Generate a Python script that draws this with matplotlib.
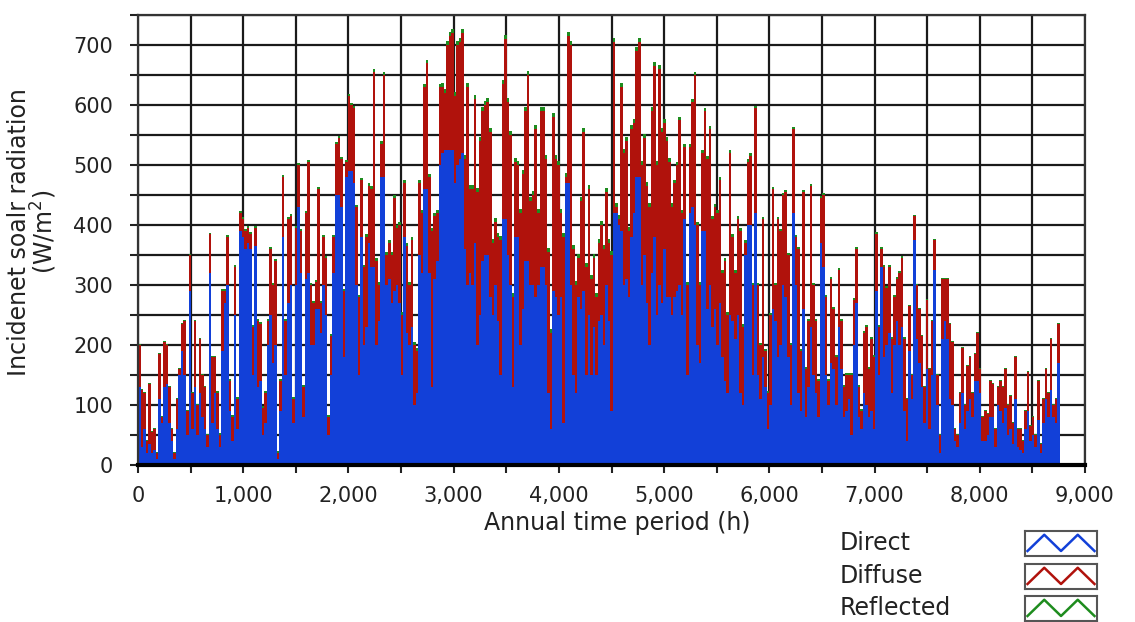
import numpy as np
import matplotlib
matplotlib.use("Agg")
import matplotlib.pyplot as plt

# daily peak values (W/m2), day 0 .. 364
total_peak = [
    200, 125, 120, 40, 135, 55, 60, 20, 185, 80,
    205, 200, 130, 60, 20, 110, 160, 235, 240, 90,
    350, 120, 240, 100, 210, 150, 130, 50, 385, 180,
    180, 120, 50, 290, 290, 380, 140, 80, 330, 110,
    420, 410, 390, 395, 385, 230, 395, 240, 235, 95,
    120, 240, 360, 300, 340, 20, 140, 480, 240, 410,
    415, 110, 395, 500, 390, 130, 420, 505, 300, 270,
    305, 460, 270, 380, 345, 80, 215, 380, 535, 545,
    510, 290, 505, 615, 600, 595, 430, 280, 475, 330,
    380, 465, 460, 655, 340, 300, 535, 650, 350, 370,
    350, 445, 395, 400, 250, 470, 365, 300, 375, 200,
    190, 470, 420, 630, 670, 480, 390, 415, 420, 630,
    630, 620, 700, 715, 720, 615, 700, 705, 720, 510,
    630, 460, 460, 610, 455, 540, 590, 600, 605, 555,
    370, 405, 380, 375, 635, 710, 605, 550, 280, 505,
    500, 420, 485, 590, 650, 440, 450, 560, 420, 590,
    590, 510, 355, 220, 580, 510, 500, 420, 380, 480,
    715, 700, 360, 300, 345, 440, 555, 330, 460, 310,
    345, 280, 370, 400, 360, 455, 370, 350, 705, 430,
    410, 630, 520, 540, 390, 560, 570, 690, 705, 500,
    545, 465, 430, 590, 665, 500, 660, 555, 570, 540,
    505, 430, 470, 500, 575, 420, 530, 300, 530, 605,
    650, 400, 300, 520, 590, 510, 560, 410, 430, 420,
    475, 320, 340, 250, 520, 380, 320, 410, 390, 230,
    370, 505, 515, 300, 595, 300, 200, 410, 190, 120,
    250, 460, 300, 410, 390, 450, 455, 350, 200, 560,
    380, 360, 190, 455, 160, 240, 465, 300, 240, 140,
    445, 450, 280, 140, 310, 260, 180, 325, 240, 130,
    150, 150, 150, 275, 360, 130, 90, 220, 230, 160,
    210, 180, 385, 230, 360, 330, 295, 330, 210, 280,
    310, 320, 345, 210, 110, 265, 150, 415, 300, 260,
    215, 130, 275, 160, 240, 375, 150, 50, 310, 310,
    310, 235, 205, 60, 50, 120, 195, 100, 165, 180,
    120, 185, 220, 160, 80, 90, 85, 140, 135, 60,
    130, 140, 130, 160, 100, 115, 70, 180, 60, 60,
    40, 90, 155, 65, 80, 50, 140, 35, 110, 160,
    120, 210, 100, 110, 235,
]

direct_peak = [
    130, 30, 60, 20, 35, 20, 25, 10, 110, 70,
    130, 135, 70, 40, 10, 60, 150, 190, 150, 50,
    290, 60, 130, 50, 120, 80, 60, 30, 320, 70,
    120, 60, 30, 190, 270, 300, 90, 40, 250, 60,
    390, 380, 360, 370, 360, 150, 365, 130, 140, 50,
    70, 200, 250, 170, 200, 10, 90, 380, 150, 270,
    300, 70, 300, 430, 320, 80, 310, 320, 200, 200,
    260, 260, 220, 300, 250, 50, 150, 320, 450, 450,
    430, 180, 480, 490, 490, 470, 300, 150, 380, 200,
    230, 370, 330, 330, 200, 240, 480, 480, 300, 310,
    270, 290, 300, 270, 150, 380, 220, 200, 230, 100,
    120, 350, 320, 460, 460, 320, 130, 310, 340, 500,
    520, 525, 525, 525, 525, 470, 500, 510, 520, 360,
    300, 320, 300, 370, 200, 250, 340, 350, 350, 280,
    250, 300, 240, 150, 410, 410, 350, 300, 130, 380,
    380, 200, 260, 340, 340, 300, 300, 280, 300, 330,
    330, 300, 120, 60, 290, 280, 250, 280, 70, 470,
    470, 300, 150, 120, 280, 260, 290, 150, 250, 150,
    230, 150, 240, 250, 200, 300, 240, 90, 420, 420,
    400, 390, 300, 310, 280, 380, 420, 480, 480, 300,
    350, 270, 200, 320, 380, 250, 300, 270, 360, 280,
    280, 250, 280, 290, 300, 250, 410, 150, 420, 430,
    400, 200, 170, 390, 390, 260, 300, 230, 260, 200,
    270, 180, 140, 120, 250, 240, 210, 250, 120, 100,
    350, 400, 400, 150, 420, 150, 110, 180, 130, 60,
    100, 260, 240, 180, 200, 300, 280, 180, 100, 420,
    300, 120, 90, 260, 80, 130, 230, 150, 120, 80,
    370, 330, 150, 100, 170, 160, 100, 230, 160, 80,
    90, 110, 50, 200, 270, 80, 60, 120, 100, 80,
    90, 60, 290, 150, 330, 180, 200, 220, 120, 200,
    240, 200, 230, 90, 40, 190, 110, 375, 210, 170,
    130, 70, 160, 60, 150, 325, 100, 20, 210, 240,
    210, 110, 100, 40, 30, 70, 120, 60, 90, 110,
    80, 140, 140, 120, 40, 40, 50, 80, 80, 30,
    100, 90, 70, 95, 50, 60, 35, 110, 30, 25,
    20, 60, 90, 40, 50, 30, 75, 20, 70, 110,
    80, 125, 80, 70, 170,
]

# small reflected cap, per month
reflected_month = [2, 3, 4, 5, 6, 6, 6, 5, 4, 3, 2, 2]
month_days = [31, 28, 31, 30, 31, 30, 31, 31, 30, 31, 30, 31]

legend_names = ["Direct", "Diffuse", "Reflected"]
colors = ["#1240d8", "#b0120c", "#1e8c1e"]
TXT = "#222222"

n = min(len(total_peak), len(direct_peak))
total = np.array(total_peak[:n], dtype=float)
direct = np.array(direct_peak[:n], dtype=float)
diffuse = np.clip(total - direct, 0, None)
reflected = np.repeat(reflected_month, month_days)[:n]
hours = np.arange(n) * 24 + 12

W, H = 1135, 622
fig = plt.figure(figsize=(11.35, 6.22), dpi=100)
ax = fig.add_axes([138 / W, 1 - 465 / H, 947 / W, 450 / H])

ax.bar(hours, direct, width=24, color=colors[0], linewidth=0, zorder=2)
ax.bar(hours, diffuse, width=24, bottom=direct, color=colors[1], linewidth=0, zorder=2)
ax.bar(hours, reflected, width=24, bottom=direct + diffuse, color=colors[2], linewidth=0, zorder=2)

ax.set_xlim(0, 9000)
ax.set_ylim(0, 750)
ax.set_xticks(np.arange(0, 9001, 1000))
ax.set_xticklabels([f"{v:,}" for v in range(0, 9001, 1000)])
ax.set_xticks(np.arange(500, 9000, 1000), minor=True)
ax.set_yticks(np.arange(0, 701, 100))
ax.set_yticks(np.arange(50, 751, 100), minor=True)

ax.grid(True, which="both", color="#1a1a1a", linewidth=1.6, zorder=1)
ax.set_axisbelow(True)
ax.tick_params(axis="both", which="both", direction="out", length=6, width=1.5,
               color="#222222", labelsize=15, labelcolor=TXT)
ax.tick_params(axis="y", pad=12)
ax.tick_params(axis="x", pad=9)
for side in ["top", "right", "left"]:
    ax.spines[side].set_linewidth(1.6)
    ax.spines[side].set_color("#333333")
ax.spines["bottom"].set_linewidth(3)
ax.spines["bottom"].set_color("black")

ax.set_xlabel("Annual time period (h)", fontsize=17, color=TXT)
ax.xaxis.set_label_coords((617 - 138) / 947, (465 - 523) / 450)
ax.xaxis.label.set_va("center")
ax.set_ylabel("Incidenet soalr radiation\n(W/m$^2$)", fontsize=17, color=TXT, linespacing=0.95)
ax.yaxis.set_label_coords((33 - 138) / 947, (465 - 232) / 450)
ax.yaxis.label.set_va("center")

# legend at lower right, text plus zigzag icons
legend_y = [543, 576, 608]
for name, c, yp in zip(legend_names, colors, legend_y):
    fig.text(840 / W, 1 - yp / H, name, fontsize=17, color=TXT, va="center", ha="left")
    iax = fig.add_axes([1025 / W, 1 - (yp + 13) / H, 72 / W, 25 / H])
    iax.plot([0, 1, 2, 3, 4], [0.2, 0.85, 0.2, 0.85, 0.2], color=c, linewidth=1.8)
    iax.set_xlim(-0.15, 4.15)
    iax.set_ylim(0, 1)
    iax.set_xticks([])
    iax.set_yticks([])
    for s in iax.spines.values():
        s.set_color("#555555")
        s.set_linewidth(1.5)

fig.savefig("out.png", dpi=100)
